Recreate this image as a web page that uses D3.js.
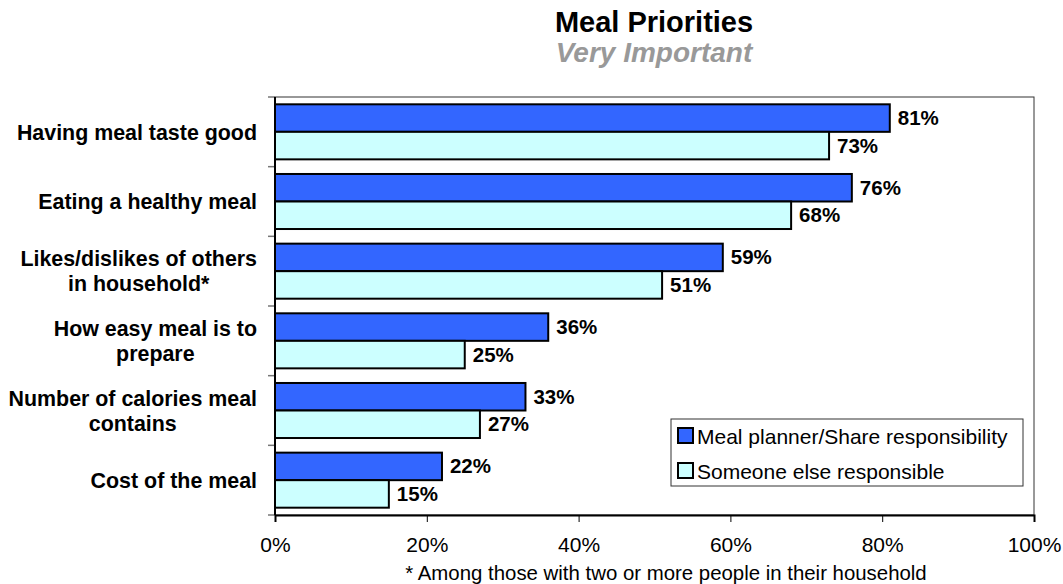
<!DOCTYPE html>
<html>
<head>
<meta charset="utf-8">
<script src="https://cdn.jsdelivr.net/npm/d3@7"></script>
<style>
  body { margin: 0; background: #fff; }
  svg { display: block; font-family: Arial, "Liberation Sans", sans-serif; }
</style>
</head>
<body>
<svg id="chart" width="1063" height="584"></svg>
<script>
// Meal priorities rated "very important", by meal responsibility
const categories = [
  "Having meal taste good",
  "Eating a healthy meal",
  "Likes/dislikes of others|in household*",
  "How easy meal is to|prepare",
  "Number of calories meal|contains",
  "Cost of the meal"
];
const seriesNames = ["Meal planner/Share responsibility", "Someone else responsible"];
const plannerValues = [81, 76, 59, 36, 33, 22];
const othersValues = [73, 68, 51, 25, 27, 15];
const tickValues = [0, 20, 40, 60, 80, 100];
const colors = ["#3366FF", "#CCFFFF"];

const svg = d3.select("#chart");
const plot = { left: 275, right: 1034, top: 97, bottom: 515 };
const labelFont = 21.4;

const x = d3.scaleLinear().domain([0, 100]).range([plot.left, plot.right]);
const y0 = d3.scaleBand().domain(categories).range([plot.top, plot.bottom]).paddingInner(0.21).paddingOuter(0.105);
const y1 = d3.scaleBand().domain([0, 1]).range([0, y0.bandwidth()]);

// Titles
svg.append("text").attr("x", 654).attr("y", 32).attr("text-anchor", "middle")
  .attr("font-size", 29).attr("font-weight", "bold").attr("fill", "#000").text("Meal Priorities");
svg.append("text").attr("x", 654).attr("y", 62).attr("text-anchor", "middle")
  .attr("font-size", 28).attr("font-weight", "bold").attr("font-style", "italic").attr("fill", "#999999").text("Very Important");

// Plot frame
svg.append("rect").attr("x", plot.left).attr("y", plot.top)
  .attr("width", plot.right - plot.left).attr("height", plot.bottom - plot.top)
  .attr("fill", "none").attr("stroke", "#333").attr("stroke-width", 1);

// Bars
const data = categories.map((c, i) => ({ cat: c, vals: [plannerValues[i], othersValues[i]] }));
const groups = svg.append("g").selectAll("g").data(data).join("g")
  .attr("transform", d => `translate(0,${y0(d.cat)})`);

groups.selectAll("rect").data(d => d.vals.map((v, k) => ({ v, k }))).join("rect")
  .attr("x", x(0))
  .attr("y", d => y1(d.k))
  .attr("width", d => x(d.v) - x(0))
  .attr("height", y1.bandwidth())
  .attr("fill", d => colors[d.k])
  .attr("stroke", "#000").attr("stroke-width", 2);

groups.selectAll("text.val").data(d => d.vals.map((v, k) => ({ v, k }))).join("text")
  .attr("class", "val")
  .attr("x", d => x(d.v) + 8)
  .attr("y", d => y1(d.k) + y1.bandwidth() / 2 + 7)
  .attr("font-size", 20.5).attr("font-weight", "bold").attr("fill", "#000")
  .text(d => d.v + "%");

// Left axis with category separator ticks
const yAxisG = svg.append("g");
d3.range(categories.length + 1).forEach(i => {
  const yy = plot.top + i * (plot.bottom - plot.top) / categories.length;
  yAxisG.append("line").attr("x1", plot.left - 7).attr("x2", plot.left)
    .attr("y1", yy).attr("y2", yy).attr("stroke", "#777").attr("stroke-width", 1.5);
});
yAxisG.append("line").attr("x1", plot.left).attr("x2", plot.left)
  .attr("y1", plot.top).attr("y2", plot.bottom).attr("stroke", "#000").attr("stroke-width", 2);

// Category labels: wrapped lines centred on each other, block right-aligned
categories.forEach(c => {
  const lines = c.split("|");
  const yc = y0(c) + y0.bandwidth() / 2;
  const g = svg.append("g");
  const texts = lines.map((ln, j) => g.append("text")
    .attr("y", yc + labelFont * 0.36 + (j - (lines.length - 1) / 2) * 25)
    .attr("font-size", labelFont).attr("font-weight", "bold").attr("fill", "#000")
    .attr("text-anchor", "middle").text(ln));
  const w = d3.max(texts, t => t.node().getComputedTextLength());
  texts.forEach(t => t.attr("x", 257 - w / 2));
});

// Bottom axis
const xAxis = d3.axisBottom(x).tickValues(tickValues).tickFormat(d => d + "%").tickSize(7).tickPadding(15);
const xg = svg.append("g").attr("transform", `translate(0,${plot.bottom})`).call(xAxis);
xg.select(".domain").attr("stroke", "#000").attr("stroke-width", 2);
xg.selectAll(".tick line").attr("stroke", "#000");
xg.selectAll(".tick text").attr("font-size", 21).attr("font-family", "Arial, 'Liberation Sans', sans-serif").attr("fill", "#000");

// Footnote
svg.append("text").attr("x", 666).attr("y", 580).attr("text-anchor", "middle")
  .attr("font-size", 20.4).attr("fill", "#000").text("* Among those with two or more people in their household");

// Legend
const lg = svg.append("g").attr("transform", "translate(671,419)");
lg.append("rect").attr("width", 352).attr("height", 67).attr("fill", "#fff").attr("stroke", "#333").attr("stroke-width", 1);
seriesNames.forEach((s, i) => {
  const yy = 17 + i * 35;
  lg.append("rect").attr("x", 7).attr("y", yy - 8).attr("width", 15).attr("height", 15)
    .attr("fill", colors[i]).attr("stroke", "#000").attr("stroke-width", 2);
  lg.append("text").attr("x", 26).attr("y", yy + 7.5).attr("font-size", 21).attr("fill", "#000").text(s);
});
</script>
</body>
</html>
